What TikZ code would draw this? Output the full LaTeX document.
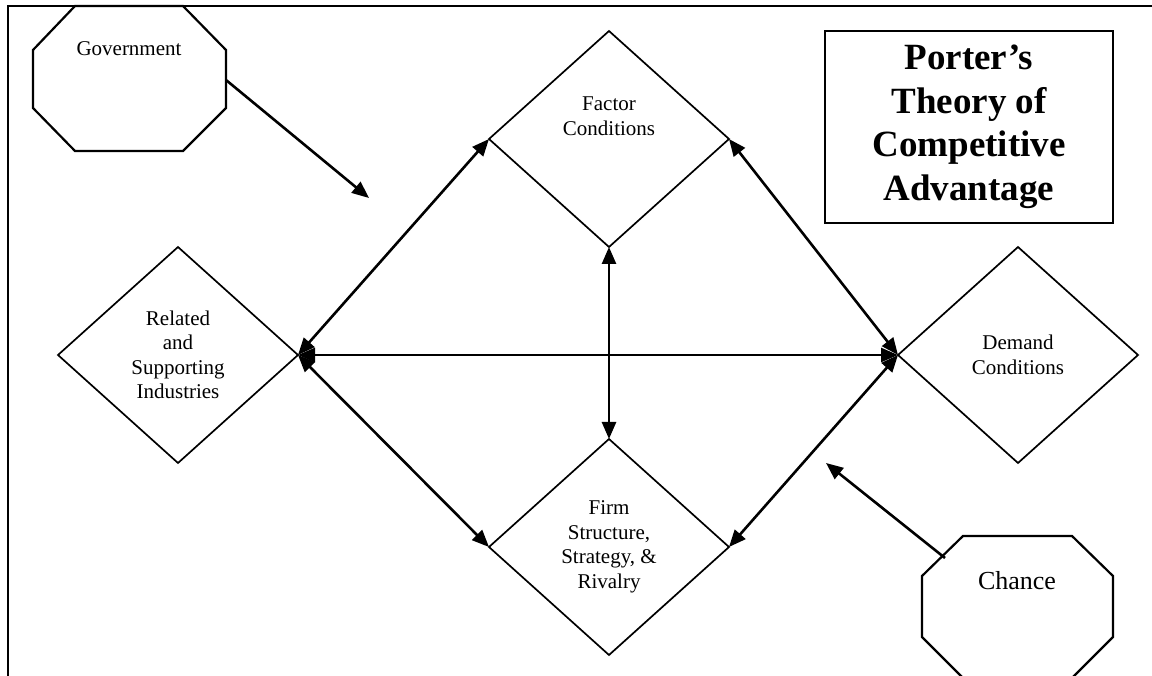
\documentclass[tikz,border=0pt]{standalone}
\usepackage{fontspec}
\setmainfont{Liberation Serif}
\usetikzlibrary{shapes.geometric,arrows.meta}

\begin{document}
\begin{tikzpicture}[x=1pt,y=-1pt,
  factorbox/.style={diamond, draw, line width=1.7pt, minimum width=240pt,
    minimum height=216pt, inner sep=0pt, outer sep=0pt, align=center,
    font=\fontsize{21}{24.5}\selectfont},
  txt/.style={align=center, inner sep=0pt, font=\fontsize{21}{25}\selectfont},
  link/.style={line width=2.6pt,
    {Triangle[length=17pt,width=14pt]}-{Triangle[length=17pt,width=14pt]}},
  push/.style={line width=2.6pt, -{Triangle[length=17pt,width=14pt]}},
  octo/.style={line width=2.2pt, line join=miter},
]
\useasboundingbox (0,0) rectangle (1152,676);

% outer frame (open to the right and bottom)
\draw[line width=2.4pt] (1160,6) -- (8,6) -- (8,684);

% the four determinants
\node[factorbox] (factor) at (609,139) {};
\node[txt] (factortext) at (609,116) {Factor\\Conditions};
\node[factorbox] (related) at (178,355) {Related\\and\\Supporting\\Industries};
\node[factorbox] (demand) at (1018,355) {Demand\\Conditions};
\node[factorbox] (firm) at (609,547) {Firm\\Structure,\\Strategy, \&\\Rivalry};

% title
\node[draw, line width=1.8pt, minimum width=288pt, minimum height=192pt,
  align=center, font=\fontsize{37}{43.5}\selectfont\bfseries]
  (title) at (969,127) {Porter’s\\Theory of\\Competitive\\Advantage};

% government
\draw[octo] (75,6) -- (183,6) -- (226,50) -- (226,108) -- (183,151)
  -- (75,151) -- (33,108) -- (33,50) -- cycle;
\node[txt] (government) at (129,49) {Government};
\coordinate (govside) at (226,80);
\coordinate (govtip) at (369,198);
\draw[push] (govside) -- (govtip);

% chance
\draw[octo] (963,536) -- (1072,536) -- (1113,576) -- (1113,637) -- (1072,678)
  -- (963,678) -- (922,637) -- (922,576) -- cycle;
\node[txt, font=\fontsize{26}{30}\selectfont] (chance) at (1017,581) {Chance};
\coordinate (chanceside) at (945,558);
\coordinate (chancetip) at (826,463);
\draw[push] (chanceside) -- (chancetip);

% links between the determinants
\draw[link] (related.east) -- (demand.west);
\draw[link] (related.east) -- (factor.west);
\draw[link] (related.east) -- (firm.west);
\draw[link] (demand.west) -- (factor.east);
\draw[link] (demand.west) -- (firm.east);
\draw[link] (factor.south) -- (firm.north);
\end{tikzpicture}
\end{document}
